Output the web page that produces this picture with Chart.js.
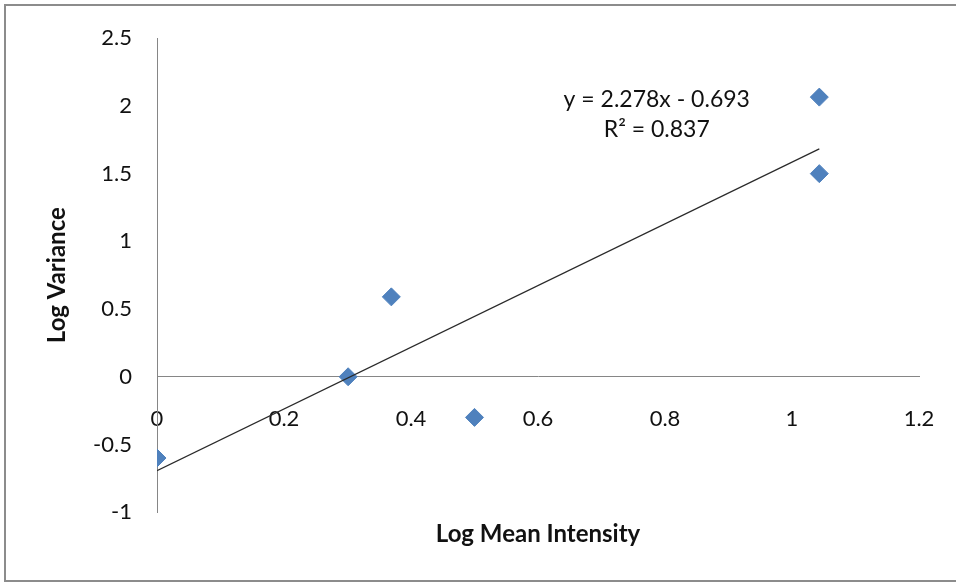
<!DOCTYPE html>
<html>
<head>
<meta charset="utf-8">
<script src="https://cdn.jsdelivr.net/npm/chart.js@4.4.1/dist/chart.umd.min.js"></script>
<style>
  html, body { margin: 0; padding: 0; background: #fff; overflow: hidden; }
  #frame {
    position: absolute; left: 4px; top: 4px; width: 980px; height: 578px;
    box-sizing: border-box; border: 2px solid #8c8c8c; border-right: none;
  }
  #wrap { position: absolute; left: 0; top: 0; width: 956px; height: 582px; }
</style>
</head>
<body>
<div id="frame"></div>
<div id="wrap"><canvas id="varChart"></canvas></div>
<script>
// Log variance vs log mean intensity, with linear trend
const logMean = [0, 0.301, 0.369, 0.5, 1.043, 1.043];
const logVar = [-0.6, 0, 0.59, -0.3, 2.065, 1.5];
const xTicks = [0, 0.2, 0.4, 0.6, 0.8, 1, 1.2];
const yTicks = [-1, -0.5, 0, 0.5, 1, 1.5, 2, 2.5];
const slope = 2.278;
const intercept = -0.693;
const rSquared = 0.837;

const textColor = '#111';
const axisColor = '#868686';
const tickFont = { family: 'Lato', size: 22 };
const titleFont = { family: 'Lato', size: 24, weight: 'bold' };

const points = logMean.map((x, i) => ({ x: x, y: logVar[i] }));
const xLo = Math.min(...logMean);
const xHi = Math.max(...logMean);
const trend = [
  { x: xLo, y: slope * xLo + intercept },
  { x: xHi, y: slope * xHi + intercept },
];

// equation + R² text near the top right
const trendLabel = {
  id: 'trendLabel',
  afterDatasetsDraw(chart) {
    const { ctx, scales } = chart;
    const cx = scales.x.getPixelForValue(0.787);
    ctx.save();
    ctx.font = '23px Lato';
    ctx.fillStyle = textColor;
    ctx.textAlign = 'center';
    ctx.textBaseline = 'middle';
    ctx.fillText('y = ' + slope + 'x - ' + Math.abs(intercept), cx, scales.y.getPixelForValue(2.048));
    ctx.fillText('R\u00B2 = ' + rSquared, cx, scales.y.getPixelForValue(1.828));
    ctx.restore();
  },
};

new Chart(document.getElementById('varChart'), {
  type: 'scatter',
  data: {
    datasets: [
      {
        type: 'line',
        label: 'Linear trend',
        data: trend,
        borderColor: '#2a2a2a',
        borderWidth: 1.2,
        pointRadius: 0,
        fill: false,
      },
      {
        label: 'Log Variance',
        data: points,
        pointStyle: 'rectRot',
        pointRadius: 9,
        pointBackgroundColor: '#4f81bd',
        pointBorderColor: '#4f81bd',
        pointBorderWidth: 1,
      },
    ],
  },
  options: {
    responsive: true,
    maintainAspectRatio: false,
    animation: false,
    layout: { padding: { top: 35, right: 37, left: 0, bottom: 0 } },
    plugins: {
      legend: { display: false },
      tooltip: { enabled: false },
      title: {
        display: true,
        position: 'bottom',
        fullSize: false,
        text: 'Log Mean Intensity',
        color: textColor,
        font: titleFont,
        padding: { top: 8, bottom: 33 },
      },
    },
    scales: {
      x: {
        type: 'linear',
        min: 0,
        max: 1.2,
        position: { y: 0 },
        grid: { display: false, drawTicks: false },
        border: { display: true, color: axisColor, width: 1 },
        afterBuildTicks: (s) => { s.ticks = xTicks.map((v) => ({ value: v })); },
        // axis sits inside the plot, so its labels need no side margin
        afterFit: (s) => { s.paddingLeft = 0; s.paddingRight = 0; },
        ticks: {
          padding: 29,
          color: textColor,
          font: tickFont,
          maxRotation: 0,
          autoSkip: false,
          callback: (v) => String(v),
        },
      },
      y: {
        type: 'linear',
        position: 'left',
        min: -1,
        max: 2.5,
        grid: { display: false, drawTicks: false },
        border: { display: true, color: axisColor, width: 1 },
        afterBuildTicks: (s) => { s.ticks = yTicks.map((v) => ({ value: v })); },
        afterFit: (s) => { s.width = 157; },
        ticks: {
          padding: 25,
          color: textColor,
          font: tickFont,
          autoSkip: false,
          callback: (v) => String(v),
        },
        title: {
          display: true,
          text: 'Log Variance',
          color: textColor,
          font: titleFont,
          padding: { top: 43, bottom: 0 },
        },
      },
    },
  },
  plugins: [trendLabel],
});
</script>
</body>
</html>
